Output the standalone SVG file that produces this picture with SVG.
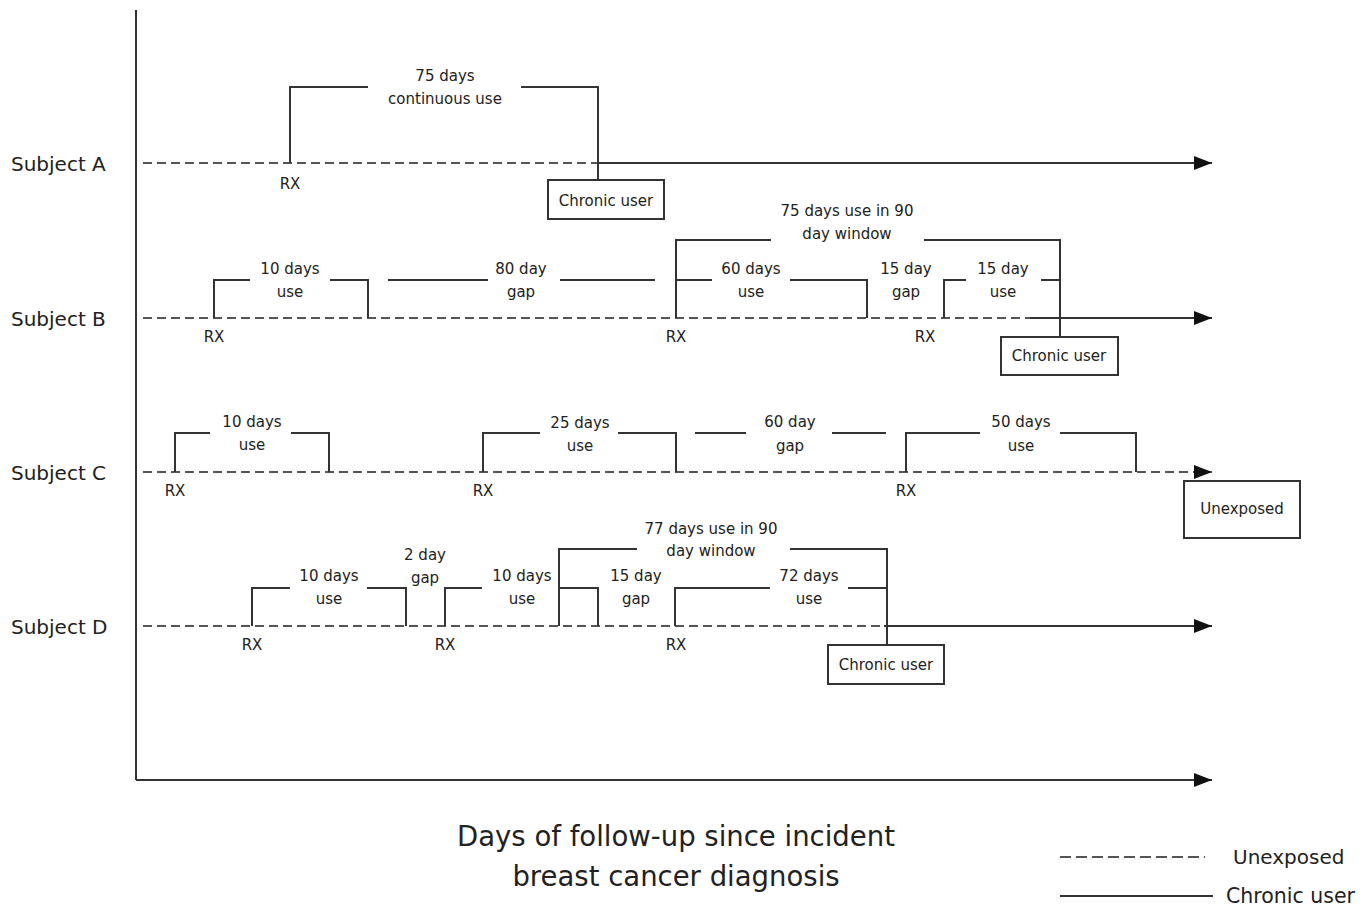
<svg xmlns="http://www.w3.org/2000/svg" width="1372" height="908" viewBox="0 0 1372 908">
<style>
  .t{font-family:"DejaVu Sans","Liberation Sans",sans-serif;font-size:15px;fill:#222;text-anchor:middle}
  .subj{font-family:"DejaVu Sans","Liberation Sans",sans-serif;font-size:20px;fill:#222}
  .title{font-family:"DejaVu Sans","Liberation Sans",sans-serif;font-size:27.5px;fill:#222;text-anchor:middle}
  .leg{font-family:"DejaVu Sans","Liberation Sans",sans-serif;font-size:20px;fill:#222}
  .solid{fill:none;stroke:#333;stroke-width:2}
  .dash{fill:none;stroke:#555;stroke-width:2;stroke-dasharray:9,5}
  .box{fill:#fff;stroke:#333;stroke-width:2}
</style>
<defs>
  <marker id="arrow" markerWidth="18" markerHeight="14" refX="18" refY="7" orient="auto" markerUnits="userSpaceOnUse">
    <path d="M0,0 L18,7 L0,14 Z" fill="#111"/>
  </marker>
</defs>
<rect width="1372" height="908" fill="#fff"/>

<g id="axes">
  <path class="solid" d="M136,10 V780"/>
  <path class="solid" d="M136,780 H1212" marker-end="url(#arrow)"/>
</g>

<g id="connectors">
  <!-- Subject A -->
  <path class="dash" d="M143,163 H598"/>
  <path class="solid" d="M598,163 H1212" marker-end="url(#arrow)"/>
  <path class="solid" d="M290,163 V87 H368"/>
  <path class="solid" d="M521,87 H598 V180"/>
  <!-- Subject B -->
  <path class="dash" d="M143,318 H1030"/>
  <path class="solid" d="M1030,318 H1212" marker-end="url(#arrow)"/>
  <path class="solid" d="M214,318 V280 H250"/>
  <path class="solid" d="M330,280 H368 V318"/>
  <path class="solid" d="M388,280 H488"/>
  <path class="solid" d="M560,280 H655"/>
  <path class="solid" d="M676,318 V240 H771"/>
  <path class="solid" d="M924,240 H1060 V337"/>
  <path class="solid" d="M676,280 H712"/>
  <path class="solid" d="M790,280 H867 V318"/>
  <path class="solid" d="M944,318 V280 H966"/>
  <path class="solid" d="M1041,280 H1060"/>
  <!-- Subject C -->
  <path class="dash" d="M143,472 H1212" marker-end="url(#arrow)"/>
  <path class="solid" d="M175,472 V433 H210"/>
  <path class="solid" d="M291,433 H329 V472"/>
  <path class="solid" d="M483,472 V433 H540"/>
  <path class="solid" d="M618,433 H676 V472"/>
  <path class="solid" d="M695,433 H746"/>
  <path class="solid" d="M832,433 H886"/>
  <path class="solid" d="M906,472 V433 H980"/>
  <path class="solid" d="M1060,433 H1136 V472"/>
  <!-- Subject D -->
  <path class="dash" d="M143,626 H884"/>
  <path class="solid" d="M884,626 H1212" marker-end="url(#arrow)"/>
  <path class="solid" d="M252,626 V588 H290"/>
  <path class="solid" d="M367,588 H406 V626"/>
  <path class="solid" d="M445,626 V588 H482"/>
  <path class="solid" d="M559,626 V549 H637"/>
  <path class="solid" d="M790,549 H887 V645"/>
  <path class="solid" d="M559,588 H598 V626"/>
  <path class="solid" d="M675,626 V588 H770"/>
  <path class="solid" d="M848,588 H887"/>
</g>

<g id="subject-a">
  <text class="subj" x="11" y="171">Subject A</text>
  <text class="t" x="445" y="81">75 days</text>
  <text class="t" x="445" y="104">continuous use</text>
  <text class="t" x="290" y="189">RX</text>
</g>
<g id="box-a">
  <rect class="box" x="548" y="180" width="116" height="39"/>
  <text class="t" x="606" y="206">Chronic user</text>
</g>

<g id="subject-b">
  <text class="subj" x="11" y="326">Subject B</text>
  <text class="t" x="290" y="274">10 days</text>
  <text class="t" x="290" y="297">use</text>
  <text class="t" x="521" y="274">80 day</text>
  <text class="t" x="521" y="297">gap</text>
  <text class="t" x="847" y="216">75 days use in 90</text>
  <text class="t" x="847" y="239">day window</text>
  <text class="t" x="751" y="274">60 days</text>
  <text class="t" x="751" y="297">use</text>
  <text class="t" x="906" y="274">15 day</text>
  <text class="t" x="906" y="297">gap</text>
  <text class="t" x="1003" y="274">15 day</text>
  <text class="t" x="1003" y="297">use</text>
  <text class="t" x="214" y="342">RX</text>
  <text class="t" x="676" y="342">RX</text>
  <text class="t" x="925" y="342">RX</text>
</g>
<g id="box-b">
  <rect class="box" x="1001" y="337" width="117" height="38"/>
  <text class="t" x="1059" y="361">Chronic user</text>
</g>

<g id="subject-c">
  <text class="subj" x="11" y="480">Subject C</text>
  <text class="t" x="252" y="427">10 days</text>
  <text class="t" x="252" y="450">use</text>
  <text class="t" x="580" y="428">25 days</text>
  <text class="t" x="580" y="451">use</text>
  <text class="t" x="790" y="427">60 day</text>
  <text class="t" x="790" y="451">gap</text>
  <text class="t" x="1021" y="427">50 days</text>
  <text class="t" x="1021" y="451">use</text>
  <text class="t" x="175" y="496">RX</text>
  <text class="t" x="483" y="496">RX</text>
  <text class="t" x="906" y="496">RX</text>
</g>
<g id="box-c">
  <rect class="box" x="1184" y="481" width="116" height="57"/>
  <text class="t" x="1242" y="514">Unexposed</text>
</g>

<g id="subject-d">
  <text class="subj" x="11" y="634">Subject D</text>
  <text class="t" x="329" y="581">10 days</text>
  <text class="t" x="329" y="604">use</text>
  <text class="t" x="425" y="560">2 day</text>
  <text class="t" x="425" y="583">gap</text>
  <text class="t" x="522" y="581">10 days</text>
  <text class="t" x="522" y="604">use</text>
  <text class="t" x="711" y="534">77 days use in 90</text>
  <text class="t" x="711" y="556">day window</text>
  <text class="t" x="636" y="581">15 day</text>
  <text class="t" x="636" y="604">gap</text>
  <text class="t" x="809" y="581">72 days</text>
  <text class="t" x="809" y="604">use</text>
  <text class="t" x="252" y="650">RX</text>
  <text class="t" x="445" y="650">RX</text>
  <text class="t" x="676" y="650">RX</text>
</g>
<g id="box-d">
  <rect class="box" x="828" y="645" width="116" height="39"/>
  <text class="t" x="886" y="670">Chronic user</text>
</g>

<g id="axis-title">
  <text class="title" x="676" y="846">Days of follow-up since incident</text>
  <text class="title" x="676" y="886">breast cancer diagnosis</text>
</g>

<g id="legend">
  <path class="dash" d="M1060,857 H1205" style="stroke-dasharray:11,5"/>
  <text class="leg" x="1233" y="864">Unexposed</text>
  <path class="solid" d="M1060,896 H1213"/>
  <text class="leg" x="1226" y="903" style="font-size:20.5px">Chronic user</text>
</g>
</svg>
